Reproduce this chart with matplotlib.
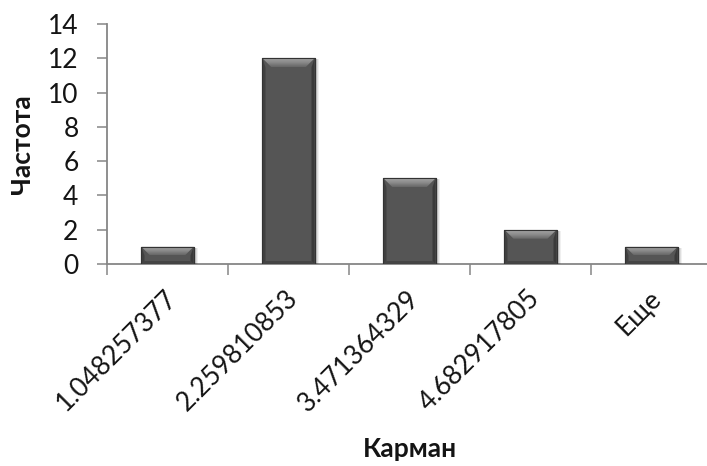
import numpy as np
import matplotlib
matplotlib.use("Agg")
import matplotlib.pyplot as plt
from matplotlib.patches import Polygon, Rectangle
from matplotlib.transforms import ScaledTranslation
from matplotlib.colors import LinearSegmentedColormap

plt.rcParams['font.family'] = ['Lato', 'Open Sans', 'DejaVu Sans']

categories = ["1.048257377", "2.259810853", "3.471364329", "4.682917805", "Еще"]
frequencies = [1, 12, 5, 2, 1]
y_ticks = [0, 2, 4, 6, 8, 10, 12, 14]
x_title = "Карман"
y_title = "Частота"

W, H = 707, 466
fig = plt.figure(figsize=(W / 100, H / 100), dpi=100)
ax = fig.add_axes([107 / W, 202 / H, 605 / W, 240 / H])
ax.set_xlim(-0.5, len(categories) - 0.5)
ax.set_ylim(0, 14)

axis_col = '#868686'
for s in ['top', 'right']:
    ax.spines[s].set_visible(False)
for s in ['left', 'bottom']:
    ax.spines[s].set_color(axis_col)
    ax.spines[s].set_linewidth(1.3)
    ax.spines[s].set_zorder(1)

ax.set_yticks(y_ticks)
ax.set_yticklabels([str(t) for t in y_ticks])
ax.tick_params(axis='y', direction='out', length=7.5, width=1.1, color=axis_col,
               labelsize=19, pad=13, labelcolor='#141414')

xpos = np.arange(len(categories))
ax.set_xticks(xpos)
ax.set_xticklabels(categories)
ax.set_xticks(np.arange(len(categories) + 1) - 0.5, minor=True)
ax.tick_params(axis='x', which='major', length=0, labelsize=19, pad=22, labelcolor='#141414')
ax.tick_params(axis='x', which='minor', direction='out', length=8, width=1.1, color=axis_col)
offset = ScaledTranslation(4 / 72, 0, fig.dpi_scale_trans)
for lab in ax.get_xticklabels():
    lab.set_rotation(45)
    lab.set_ha('right')
    lab.set_va('center')
    lab.set_rotation_mode('anchor')
    lab.set_transform(lab.get_transform() + offset)

ax.set_ylabel(y_title, fontsize=19, fontweight='bold', color='#141414', va='center')
ax.yaxis.set_label_coords((22 - 107) / 605, 0.5)
fig.text(410 / W, 1 - 449 / H, x_title, fontsize=19, fontweight='bold', color='#141414',
         ha='center', va='center')

# bars with bevel
bw = 0.43
bars = ax.bar(xpos, frequencies, width=bw, color='#555555', edgecolor='#3a3a3a',
              linewidth=0.8, zorder=3)
T = ax.transData
Ti = T.inverted()
top_b, side_b = 9.0, 3.0
grad = np.linspace(0, 1, 64).reshape(-1, 1)
cmap = LinearSegmentedColormap.from_list('bev', ['#666666', '#8c8c8c', '#a6a6a6'])
for rect in bars:
    x0 = rect.get_x()
    x1 = x0 + rect.get_width()
    v = rect.get_height()
    (px0, py0) = T.transform((x0, 0))
    (px1, py1) = T.transform((x1, v))

    def D(pts):
        return Ti.transform(np.array(pts))

    # shadow
    for k, a in [(4, 0.06), (3, 0.08), (2, 0.10)]:
        sh = D([(px0 + 1, py0 - k), (px1 + k, py0 - k), (px1 + k, py1 - 1), (px0 + 1, py1 - 1)])
        ax.add_patch(Polygon(sh, closed=True, facecolor='black', alpha=a, edgecolor='none', zorder=2))
    tb = min(top_b, (py1 - py0) * 0.5)
    left = D([(px0, py0), (px0 + side_b, py0 + side_b), (px0 + side_b, py1 - tb), (px0, py1)])
    right = D([(px1, py0), (px1 - side_b, py0 + side_b), (px1 - side_b, py1 - tb), (px1, py1)])
    bottom = D([(px0, py0), (px1, py0), (px1 - side_b, py0 + side_b), (px0 + side_b, py0 + side_b)])
    ax.add_patch(Polygon(left, closed=True, facecolor='#404040', edgecolor='none', zorder=4))
    ax.add_patch(Polygon(right, closed=True, facecolor='#3a3a3a', edgecolor='none', zorder=4))
    ax.add_patch(Polygon(bottom, closed=True, facecolor='#444444', edgecolor='none', zorder=4))
    topp = D([(px0, py1), (px1, py1), (px1 - tb, py1 - tb), (px0 + tb, py1 - tb)])
    poly = Polygon(topp, closed=True, facecolor='none', edgecolor='none', zorder=5)
    ax.add_patch(poly)
    ylow = Ti.transform((px0, py1 - tb))[1]
    im = ax.imshow(grad, extent=[x0, x1, ylow, v], origin='lower', cmap=cmap,
                   aspect='auto', zorder=5, interpolation='bilinear')
    im.set_clip_path(poly)
    ax.add_patch(Rectangle((x0, 0), x1 - x0, v, facecolor='none', edgecolor='#333333',
                           linewidth=0.8, zorder=6))

ax.set_xlim(-0.5, len(categories) - 0.5)
ax.set_ylim(0, 14)
ax.set_aspect('auto')

fig.savefig('out.png', dpi=100)
